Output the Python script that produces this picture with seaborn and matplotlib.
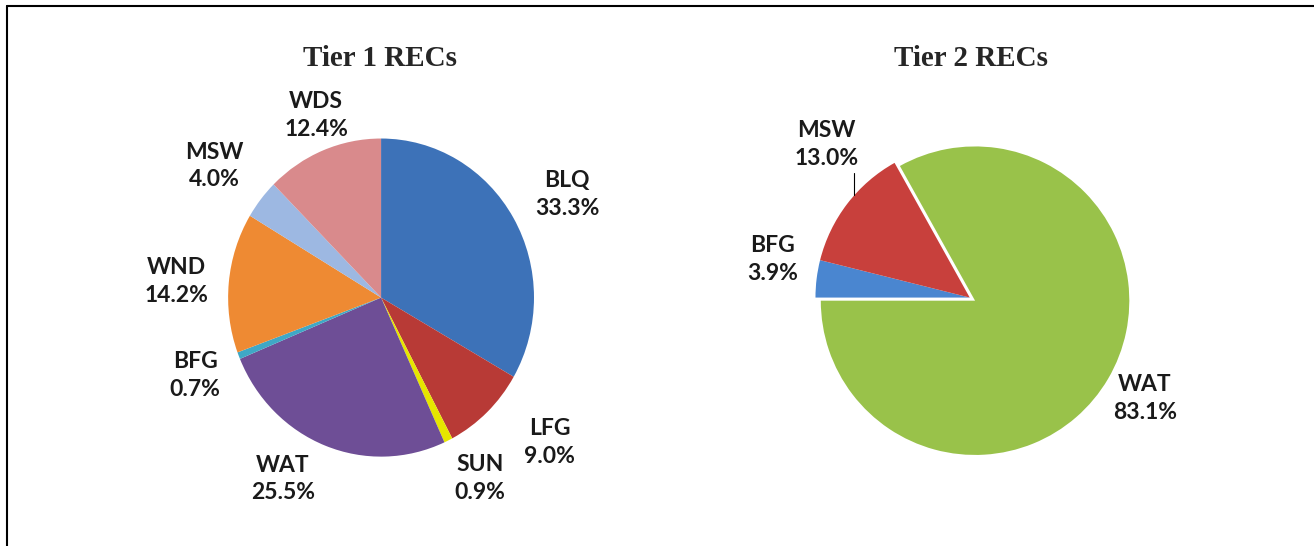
import numpy as np
import matplotlib.pyplot as plt
import seaborn as sns
from matplotlib.lines import Line2D

# ─── DATA ─────────────────────────────────────────────────────────────────────
TIER1_NAMES = ['BLQ', 'LFG', 'SUN', 'WAT', 'BFG', 'WND', 'MSW', 'WDS']
TIER1_PCT   = [33.3, 9.0, 0.9, 25.5, 0.7, 14.2, 4.0, 12.4]
TIER1_COLORS = ['#3d72b8', '#b83a36', '#e6e600', '#6e4e96',
                '#3fa8c6', '#ee8a33', '#9db8e2', '#d98a8c']

TIER2_NAMES = ['BFG', 'MSW', 'WAT']
TIER2_PCT   = [3.9, 13.0, 83.1]
TIER2_COLORS = ['#4a86d0', '#c8403c', '#99c24a']

# label placement: distance from centre (radii) and nudge from mid-angle (deg)
TIER1_LABEL_DIST = [1.38, 1.43, 1.31, 1.31, 1.31, 1.34, 1.37, 1.22]
TIER1_LABEL_NUDGE = [-2, 6.5, 3.5, -8, 0.5, 1, 1, -2]
TIER2_LABEL_DIST = [1.30, 1.36, 1.27]
TIER2_LABEL_NUDGE = [-4, -9.4, 0.5]

sns.set_theme(style='white')
plt.rcParams['font.family'] = ['Lato', 'DejaVu Sans']

fig = plt.figure(figsize=(13.14, 5.46), dpi=100)
ax1 = fig.add_axes([0.155, 0.12, 0.27, 0.67])
ax2 = fig.add_axes([0.603, 0.13, 0.27, 0.65])

label_font = dict(fontsize=16.5, fontweight='bold', color='#1a1a1a')


def draw_pie(ax, names, pct, colors, start, dists, nudges, explode=None,
             aspect=1.0):
    labels = [f'{n}\n{v:.1f}%' for n, v in zip(names, pct)]
    wedges, texts = ax.pie(
        pct, labels=labels, colors=colors, startangle=start,
        counterclock=False, explode=explode,
        wedgeprops=dict(linewidth=0),
        textprops=dict(linespacing=1.4, **label_font),
    )
    for w, t, d, n in zip(wedges, texts, dists, nudges):
        mid = np.deg2rad((w.theta1 + w.theta2) / 2 + n)
        cx, cy = w.center
        t.set_position((cx + d * np.cos(mid), cy + d * np.sin(mid)))
        t.set_ha('center')
        t.set_va('center')
    ax.set_xlim(-1.15, 1.15)
    ax.set_ylim(-1.15, 1.15)
    ax.set_aspect(aspect)
    return wedges, texts


draw_pie(ax1, TIER1_NAMES, TIER1_PCT, TIER1_COLORS, 90,
         TIER1_LABEL_DIST, TIER1_LABEL_NUDGE, aspect=1.04)
w2, t2 = draw_pie(ax2, TIER2_NAMES, TIER2_PCT, TIER2_COLORS, 180,
                  TIER2_LABEL_DIST, TIER2_LABEL_NUDGE, explode=[0, 0, 0.04])

# short leader line under the tier 2 MSW label
mid = (w2[1].theta1 + w2[1].theta2) / 2
edge = np.deg2rad(mid - 4.2)
ex, ey = np.cos(edge), np.sin(edge)
ax2.plot([ex, ex], [ey, ey + 0.14], color='black', linewidth=0.8)

title_font = dict(fontsize=21, fontweight='bold', family='Liberation Serif')
fig.text(0.289, 0.892, 'Tier 1 RECs', ha='center', va='center', **title_font)
fig.text(0.739, 0.892, 'Tier 2 RECs', ha='center', va='center', **title_font)

# frame (cropped on right and bottom in the source)
fig.add_artist(Line2D([0.0055, 0.0055], [0.0, 0.989], color='black',
                      linewidth=1.5, transform=fig.transFigure))
fig.add_artist(Line2D([0.0055, 1.0], [0.989, 0.989], color='black',
                      linewidth=1.5, transform=fig.transFigure))

fig.savefig('out.png', dpi=100)
